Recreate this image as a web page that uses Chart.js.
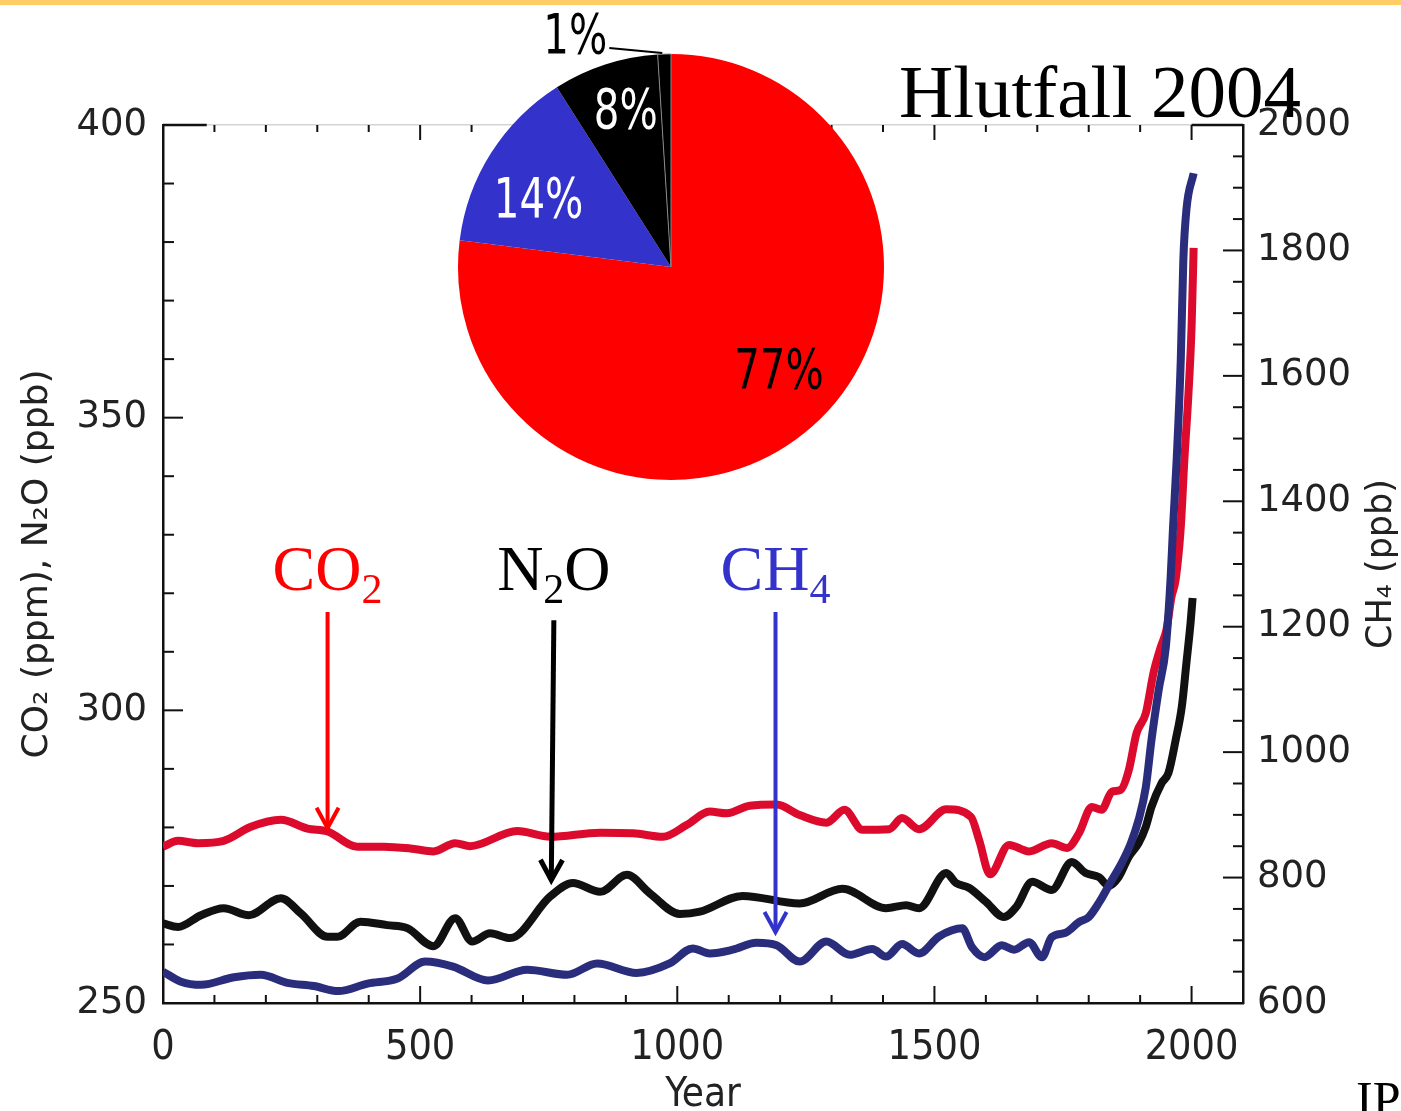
<!DOCTYPE html>
<html>
<head>
<meta charset="utf-8">
<script src="https://cdn.jsdelivr.net/npm/chart.js@4.4.1/dist/chart.umd.min.js"></script>
<style>
  html, body { margin: 0; padding: 0; background: #fff; overflow: hidden; }
  #wrap { position: relative; width: 1401px; height: 1111px; }
  #main { position: absolute; left: 0; top: 0; }
  #pie { position: absolute; left: 411px; top: 7px; }
  #topbar { position: absolute; left: 0; top: 0; width: 1401px; height: 5px; background: #ffcc66; }
</style>
</head>
<body>
<div id="wrap">
  <canvas id="main" width="1401" height="1111"></canvas>
  <canvas id="pie" width="520" height="520"></canvas>
  <div id="topbar"></div>
</div>
<script>
// values
const co2Years = [0, 29, 68, 118, 171, 229, 281, 320, 378, 429, 481, 526, 568, 597, 689, 753, 850, 914, 972, 1018,
  1063, 1096, 1141, 1193, 1238, 1290, 1325, 1360, 1412, 1437, 1470, 1523, 1571, 1587, 1608, 1645, 1684, 1728, 1758, 1781,
  1806, 1825, 1845, 1862, 1878, 1893, 1911, 1926, 1940, 1951, 1961, 1969, 1979, 1986, 1994, 2000, 2004];
const co2Values = [276.7, 277.7, 277.3, 277.7, 280.1, 281.3, 279.8, 279.3, 276.7, 276.7, 276.4, 275.9, 277.3, 276.8, 279.4, 278.4, 279.1, 279.0, 278.4, 280.4,
  282.7, 282.4, 283.7, 283.9, 282.1, 280.8, 283.0, 279.6, 279.7, 281.6, 279.7, 283.1, 281.8, 277.8, 272.0, 277.0, 275.9, 277.3, 276.5, 279.0,
  283.5, 283.0, 286.1, 286.4, 289.8, 296.1, 299.5, 306.4, 310.8, 313.7, 319.4, 322.3, 331.3, 342.8, 354.2, 365.5, 379.0];

const n2oYears = [0, 29, 74, 118, 167, 229, 268, 320, 339, 384, 436, 475, 526, 568, 601, 636, 675, 753, 797, 850,
  902, 947, 1005, 1044, 1127, 1238, 1321, 1406, 1445, 1470, 1523, 1542, 1567, 1600, 1635, 1659, 1690, 1728, 1767, 1794,
  1820, 1839, 1858, 1878, 1897, 1911, 1922, 1942, 1955, 1969, 1981, 1990, 1998, 2002];
const n2oValues = [263.6, 263.0, 265.0, 266.2, 265.0, 267.9, 265.3, 261.3, 261.3, 263.9, 263.3, 262.8, 259.7, 264.5, 260.5, 261.9, 261.1, 268.2, 270.5, 269.0,
  271.9, 268.7, 265.2, 265.6, 268.3, 267.0, 269.5, 266.2, 266.7, 266.2, 272.2, 270.5, 269.7, 267.3, 264.7, 266.4, 270.7, 269.3, 274.1, 272.2,
  271.5, 270.0, 271.5, 275.0, 277.3, 280.1, 283.5, 287.6, 289.3, 294.9, 300.6, 308.1, 314.9, 319.2];

const ch4Years = [0, 35, 74, 138, 190, 242, 293, 341, 398, 456, 510, 564, 632, 708, 786, 844, 921, 985, 1030, 1063,
  1108, 1154, 1193, 1238, 1290, 1335, 1379, 1406, 1437, 1470, 1509, 1554, 1573, 1597, 1631, 1655, 1684, 1709, 1728, 1755,
  1781, 1800, 1820, 1845, 1864, 1882, 1897, 1911, 1922, 1936, 1950, 1959, 1964, 1971, 1979, 1984, 1990, 2004];
const ch4Values = [650, 634, 629, 641, 645, 632, 627, 619, 631, 639, 666, 658, 636, 653, 645, 663, 648, 663, 687, 679,
  685, 696, 692, 666, 698, 677, 686, 674, 694, 679, 706, 719, 689, 673, 692, 685, 697, 673, 705, 712,
  729, 737, 760, 796, 823, 855, 892, 944, 1019, 1099, 1168, 1274, 1359, 1466, 1625, 1785, 1865, 1923];

const yearLabels = [0, 500, 1000, 1500, 2000];
const leftLabels = [250, 300, 350, 400];
const rightLabels = [600, 800, 1000, 1200, 1400, 1600, 1800, 2000];

const pieCategories = ['CO₂', 'CH₄', 'N₂O', 'Annað'];
const pieShares = [77, 14, 8, 1];

const toPoints = (xs, ys) => xs.map((x, i) => ({ x: x, y: ys[i] }));

const tickFont = { family: 'DejaVu Sans', size: 37 };
const narrowFont = '"Liberation Sans Narrow", "DejaVu Sans Condensed", "Liberation Sans", sans-serif';

// labels with arrows, placed in data units
const gasMarks = [
  { parts: [['CO', 0], ['2', 1]], color: '#ff0000', x1: 320, v1: 316.8, x2: 320, v2: 279.9, w: 4 },
  { parts: [['N', 0], ['2', 1], ['O', 0]], color: '#000000', x1: 760, v1: 315.4, x2: 755, v2: 271.0, w: 5 },
  { parts: [['CH', 0], ['4', 1]], color: '#3333cc', x1: 1191, v1: 316.8, x2: 1191, v2: 262.1, w: 4 }
];
const gasLabelValue = 320.6;

function line(ctx, x1, y1, x2, y2) {
  ctx.beginPath();
  ctx.moveTo(x1, y1);
  ctx.lineTo(x2, y2);
  ctx.stroke();
}

function drawArrow(ctx, x1, y1, x2, y2, color, width) {
  ctx.strokeStyle = color;
  ctx.lineWidth = width;
  line(ctx, x1, y1, x2, y2);
  const ang = Math.atan2(y2 - y1, x2 - x1);
  const len = 23, spread = 0.5;
  ctx.beginPath();
  ctx.moveTo(x2 - len * Math.cos(ang - spread), y2 - len * Math.sin(ang - spread));
  ctx.lineTo(x2, y2);
  ctx.lineTo(x2 - len * Math.cos(ang + spread), y2 - len * Math.sin(ang + spread));
  ctx.stroke();
}

function drawFormula(ctx, parts, cx, baseline, color) {
  const big = '64px "Liberation Serif", serif';
  const small = '42px "Liberation Serif", serif';
  let w = 0;
  parts.forEach(([t, sub]) => { ctx.font = sub ? small : big; w += ctx.measureText(t).width; });
  let x = cx - w / 2;
  ctx.fillStyle = color;
  ctx.textAlign = 'left';
  ctx.textBaseline = 'alphabetic';
  parts.forEach(([t, sub]) => {
    ctx.font = sub ? small : big;
    ctx.fillText(t, x, baseline + (sub ? 13 : 0));
    x += ctx.measureText(t).width;
  });
}

// narrow text: squeeze horizontally around the anchor point
function narrowText(ctx, txt, x, y, squeeze) {
  ctx.save();
  ctx.translate(x, y);
  ctx.scale(squeeze, 1);
  ctx.fillText(txt, 0, 0);
  ctx.restore();
}

// ticks pointing into the plot, as in the original figure
const innerTicks = {
  id: 'innerTicks',
  afterDraw(chart) {
    const { ctx, chartArea: a, scales } = chart;
    ctx.save();
    ctx.strokeStyle = '#111';
    ctx.lineWidth = 2;
    scales.x.ticks.forEach(t => {
      const px = scales.x.getPixelForValue(t.value);
      const major = t.value % 500 === 0;
      line(ctx, px, a.bottom, px, a.bottom - (major ? 17 : 8));
      line(ctx, px, a.top, px, a.top + (major ? 15 : 7));
    });
    scales.y.ticks.forEach(t => {
      const py = scales.y.getPixelForValue(t.value);
      line(ctx, a.left, py, a.left + (t.value % 50 === 0 ? 20 : 11), py);
    });
    scales.y1.ticks.forEach(t => {
      const py = scales.y1.getPixelForValue(t.value);
      line(ctx, a.right, py, a.right - (t.value % 200 === 0 ? 20 : 10), py);
    });
    // dark corners of the top frame line
    ctx.lineWidth = 2.5;
    line(ctx, a.left, a.top, scales.x.getPixelForValue(85), a.top);
    line(ctx, scales.x.getPixelForValue(2000), a.top, a.right, a.top);
    ctx.restore();
  }
};

const decorations = {
  id: 'decorations',
  afterDraw(chart) {
    const { ctx, chartArea: a, scales } = chart;
    ctx.save();
    // arrows and gas names
    gasMarks.forEach(m => {
      const x1 = scales.x.getPixelForValue(m.x1), y1 = scales.y.getPixelForValue(m.v1);
      const x2 = scales.x.getPixelForValue(m.x2), y2 = scales.y.getPixelForValue(m.v2);
      drawArrow(ctx, x1, y1, x2, y2, m.color, m.w);
      drawFormula(ctx, m.parts, x1, scales.y.getPixelForValue(gasLabelValue), m.color);
    });
    // right axis title, reading upwards
    ctx.save();
    ctx.translate(scales.y1.right - 19, (a.top + a.bottom) / 2);
    ctx.rotate(-Math.PI / 2);
    ctx.font = '35px "DejaVu Sans"';
    ctx.fillStyle = '#222';
    ctx.textAlign = 'center';
    ctx.textBaseline = 'middle';
    ctx.fillText('CH₄ (ppb)', 0, 0);
    ctx.restore();
    // heading
    ctx.font = '75px "Liberation Serif", serif';
    ctx.fillStyle = '#000';
    ctx.textAlign = 'center';
    ctx.textBaseline = 'alphabetic';
    ctx.fillText('Hlutfall 2004', 1100, 117);
    ctx.font = '50px "Liberation Serif", serif';
    ctx.textAlign = 'left';
    ctx.fillText('IP', 1356, 1116);
    ctx.restore();
  }
};

new Chart(document.getElementById('main').getContext('2d'), {
  type: 'line',
  data: {
    datasets: [
      { label: 'CH₄', data: toPoints(ch4Years, ch4Values), yAxisID: 'y1', borderColor: '#2a2d7c', order: 0 },
      { label: 'CO₂', data: toPoints(co2Years, co2Values), yAxisID: 'y', borderColor: '#dc0a2d', order: 1 },
      { label: 'N₂O', data: toPoints(n2oYears, n2oValues), yAxisID: 'y', borderColor: '#111111', order: 2 }
    ]
  },
  options: {
    responsive: false,
    animation: false,
    layout: { padding: 0 },
    elements: {
      point: { radius: 0 },
      line: { borderWidth: 8, cubicInterpolationMode: 'monotone', borderCapStyle: 'butt' }
    },
    plugins: { legend: { display: false }, tooltip: { enabled: false } },
    scales: {
      x: {
        type: 'linear', position: 'bottom', min: 0, max: 2100,
        afterFit: s => { s.height = 108; },
        grid: { drawOnChartArea: false, drawTicks: false },
        border: { color: '#111', width: 2.5 },
        ticks: {
          stepSize: 100, autoSkip: false, maxRotation: 0, maxTicksLimit: 100, padding: 21,
          color: '#222', font: { family: narrowFont, size: 41 },
          callback: v => yearLabels.includes(v) ? String(v) : ''
        },
        title: { display: true, text: 'Year', color: '#222', font: { family: narrowFont, size: 40 }, padding: { top: 0, bottom: -9 } }
      },
      x2: {
        type: 'linear', position: 'top', min: 0, max: 2100,
        afterFit: s => { s.height = 125; },
        grid: { drawOnChartArea: false, drawTicks: false },
        border: { color: '#d4d4d4', width: 1.5 },
        ticks: { display: false }
      },
      y: {
        type: 'linear', position: 'left', min: 250, max: 400,
        afterFit: s => { s.width = 163; },
        grid: { drawOnChartArea: false, drawTicks: false },
        border: { color: '#111', width: 2.5 },
        ticks: {
          stepSize: 10, autoSkip: false, maxTicksLimit: 100, padding: 16,
          color: '#222', font: tickFont,
          callback: v => leftLabels.includes(v) ? String(v) : ''
        },
        title: { display: true, text: 'CO₂ (ppm), N₂O (ppb)', color: '#222', font: { family: 'DejaVu Sans', size: 36 }, padding: { top: 16, bottom: 0 } }
      },
      y1: {
        type: 'linear', position: 'right', min: 600, max: 2000,
        afterFit: s => { s.width = 158; },
        grid: { drawOnChartArea: false, drawTicks: false },
        border: { color: '#111', width: 2.5 },
        ticks: {
          stepSize: 50, autoSkip: false, maxTicksLimit: 100, padding: 14,
          color: '#222', font: tickFont,
          callback: v => rightLabels.includes(v) ? String(v) : ''
        }
      }
    }
  },
  plugins: [innerTicks, decorations]
});

// label radius factor and angle nudge (degrees) for each slice
const pieLabelPlace = [[0.70, -5], [0.70, -5], [0.77, 2]];

const pieLabels = {
  id: 'pieLabels',
  afterDatasetsDraw(chart) {
    const { ctx } = chart;
    const meta = chart.getDatasetMeta(0);
    ctx.save();
    ctx.font = '56px ' + narrowFont;
    ctx.textBaseline = 'middle';
    ctx.textAlign = 'center';
    meta.data.forEach((arc, i) => {
      const p = arc.getProps(['x', 'y', 'startAngle', 'endAngle', 'outerRadius'], true);
      const mid = (p.startAngle + p.endAngle) / 2;
      const txt = pieShares[i] + '%';
      if (pieShares[i] < 5) {
        // small slice: label outside with a leader line
        const ex = p.x + p.outerRadius * Math.cos(mid);
        const ey = p.y + p.outerRadius * Math.sin(mid);
        ctx.strokeStyle = '#000';
        ctx.lineWidth = 2;
        line(ctx, ex - 2, ey - 1, ex - 55, ey - 6);
        ctx.fillStyle = '#000';
        const w = ctx.measureText(txt).width * 0.8;
        narrowText(ctx, txt, ex - 57 - w / 2, ey - 16, 0.8);
        return;
      }
      const [f, nudge] = pieLabelPlace[i];
      const ang = mid + nudge * Math.PI / 180;
      ctx.fillStyle = i === 0 ? '#000' : '#fff';
      narrowText(ctx, txt, p.x + p.outerRadius * f * Math.cos(ang), p.y + p.outerRadius * f * Math.sin(ang) + 4, 0.8);
    });
    ctx.restore();
  }
};

new Chart(document.getElementById('pie').getContext('2d'), {
  type: 'pie',
  data: {
    labels: pieCategories,
    datasets: [{
      data: pieShares,
      backgroundColor: ['#ff0000', '#3333cc', '#000000', '#000000'],
      borderColor: ['#ff0000', '#3333cc', '#000000', '#888888'],
      borderWidth: [0, 0, 0, 1]
    }]
  },
  options: {
    responsive: false,
    animation: false,
    radius: 213,
    layout: { padding: 0 },
    plugins: { legend: { display: false }, tooltip: { enabled: false } }
  },
  plugins: [pieLabels]
});
</script>
</body>
</html>
